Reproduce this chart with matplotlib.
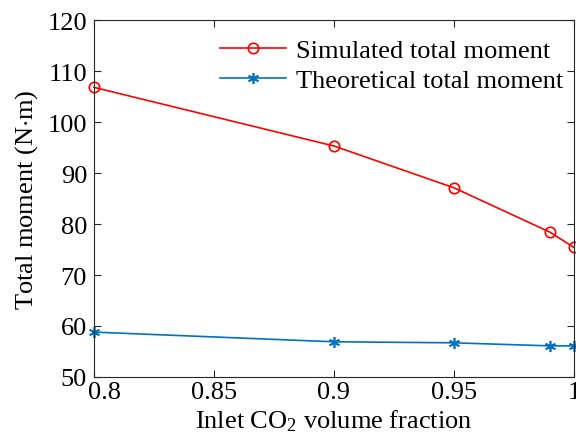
import matplotlib
matplotlib.use('Agg')
import matplotlib.pyplot as plt
import matplotlib.transforms as mtransforms

plt.rcParams['font.family'] = ['Liberation Serif', 'DejaVu Serif']
plt.rcParams['mathtext.fontset'] = 'custom'
plt.rcParams['mathtext.rm'] = 'Liberation Serif'
plt.rcParams['mathtext.it'] = 'Liberation Serif:italic'

# data
co2_fraction = [0.8, 0.9, 0.95, 0.99, 1.0]
simulated = [106.8, 95.3, 87.1, 78.4, 75.4]
theoretical = [58.8, 56.9, 56.7, 56.1, 56.1]
x_ticks = [0.8, 0.85, 0.9, 0.95, 1.0]
x_ticklabels = ['0.8', '0.85', '0.9', '0.95', '1']
y_ticks = [50, 60, 70, 80, 90, 100, 110, 120]

FS = 19


def plot_data():
    """Plot the two moment curves."""

    fig = plt.figure(figsize=[5.76, 4.39], dpi=100)
    ax = fig.add_axes([0.1632, 0.139, 0.8333, 0.813])

    ax.plot(co2_fraction, simulated, color='red', lw=1.2, marker='o',
            ms=7.5, mfc='none', mec='red', mew=1.2, clip_on=False,
            label='Simulated total moment')
    ax.plot(co2_fraction, theoretical, color='#0072BD', lw=1.2,
            marker=(6, 2, 0), ms=8, mew=1.2, clip_on=False,
            label='Theoretical total moment')

    ax.set_xlim(0.8, 1.0)
    ax.set_ylim(50, 120)
    ax.set_xticks(x_ticks)
    ax.set_xticklabels(x_ticklabels)
    ax.set_yticks(y_ticks)
    ax.tick_params(direction='in', top=True, right=True, length=5,
                   width=0.8, labelsize=FS, color='#262626')
    ax.tick_params(axis='x', pad=3)
    ax.tick_params(axis='y', pad=5)
    for s in ax.spines.values():
        s.set_linewidth(0.8)
        s.set_color('#262626')

    # first x label sits a little to the right, clear of the "50"
    first = ax.get_xticklabels()[0]
    first.set_transform(first.get_transform() +
                        mtransforms.ScaledTranslation(0.10, 0, fig.dpi_scale_trans))

    ax.set_xlabel(r'Inlet CO$_2$ volume fraction', fontsize=FS, labelpad=3)
    ax.set_ylabel(r'Total moment (N$\cdot$m)', fontsize=FS, labelpad=5)

    ax.legend(loc='upper right', frameon=False, fontsize=FS,
              handlelength=2.5, handletextpad=0.4, labelspacing=0.25,
              borderaxespad=0.1, bbox_to_anchor=(1.006, 0.985))


def main():
    plot_data()
    plt.savefig('out.png', dpi=100)


if __name__ == '__main__':
    main()
